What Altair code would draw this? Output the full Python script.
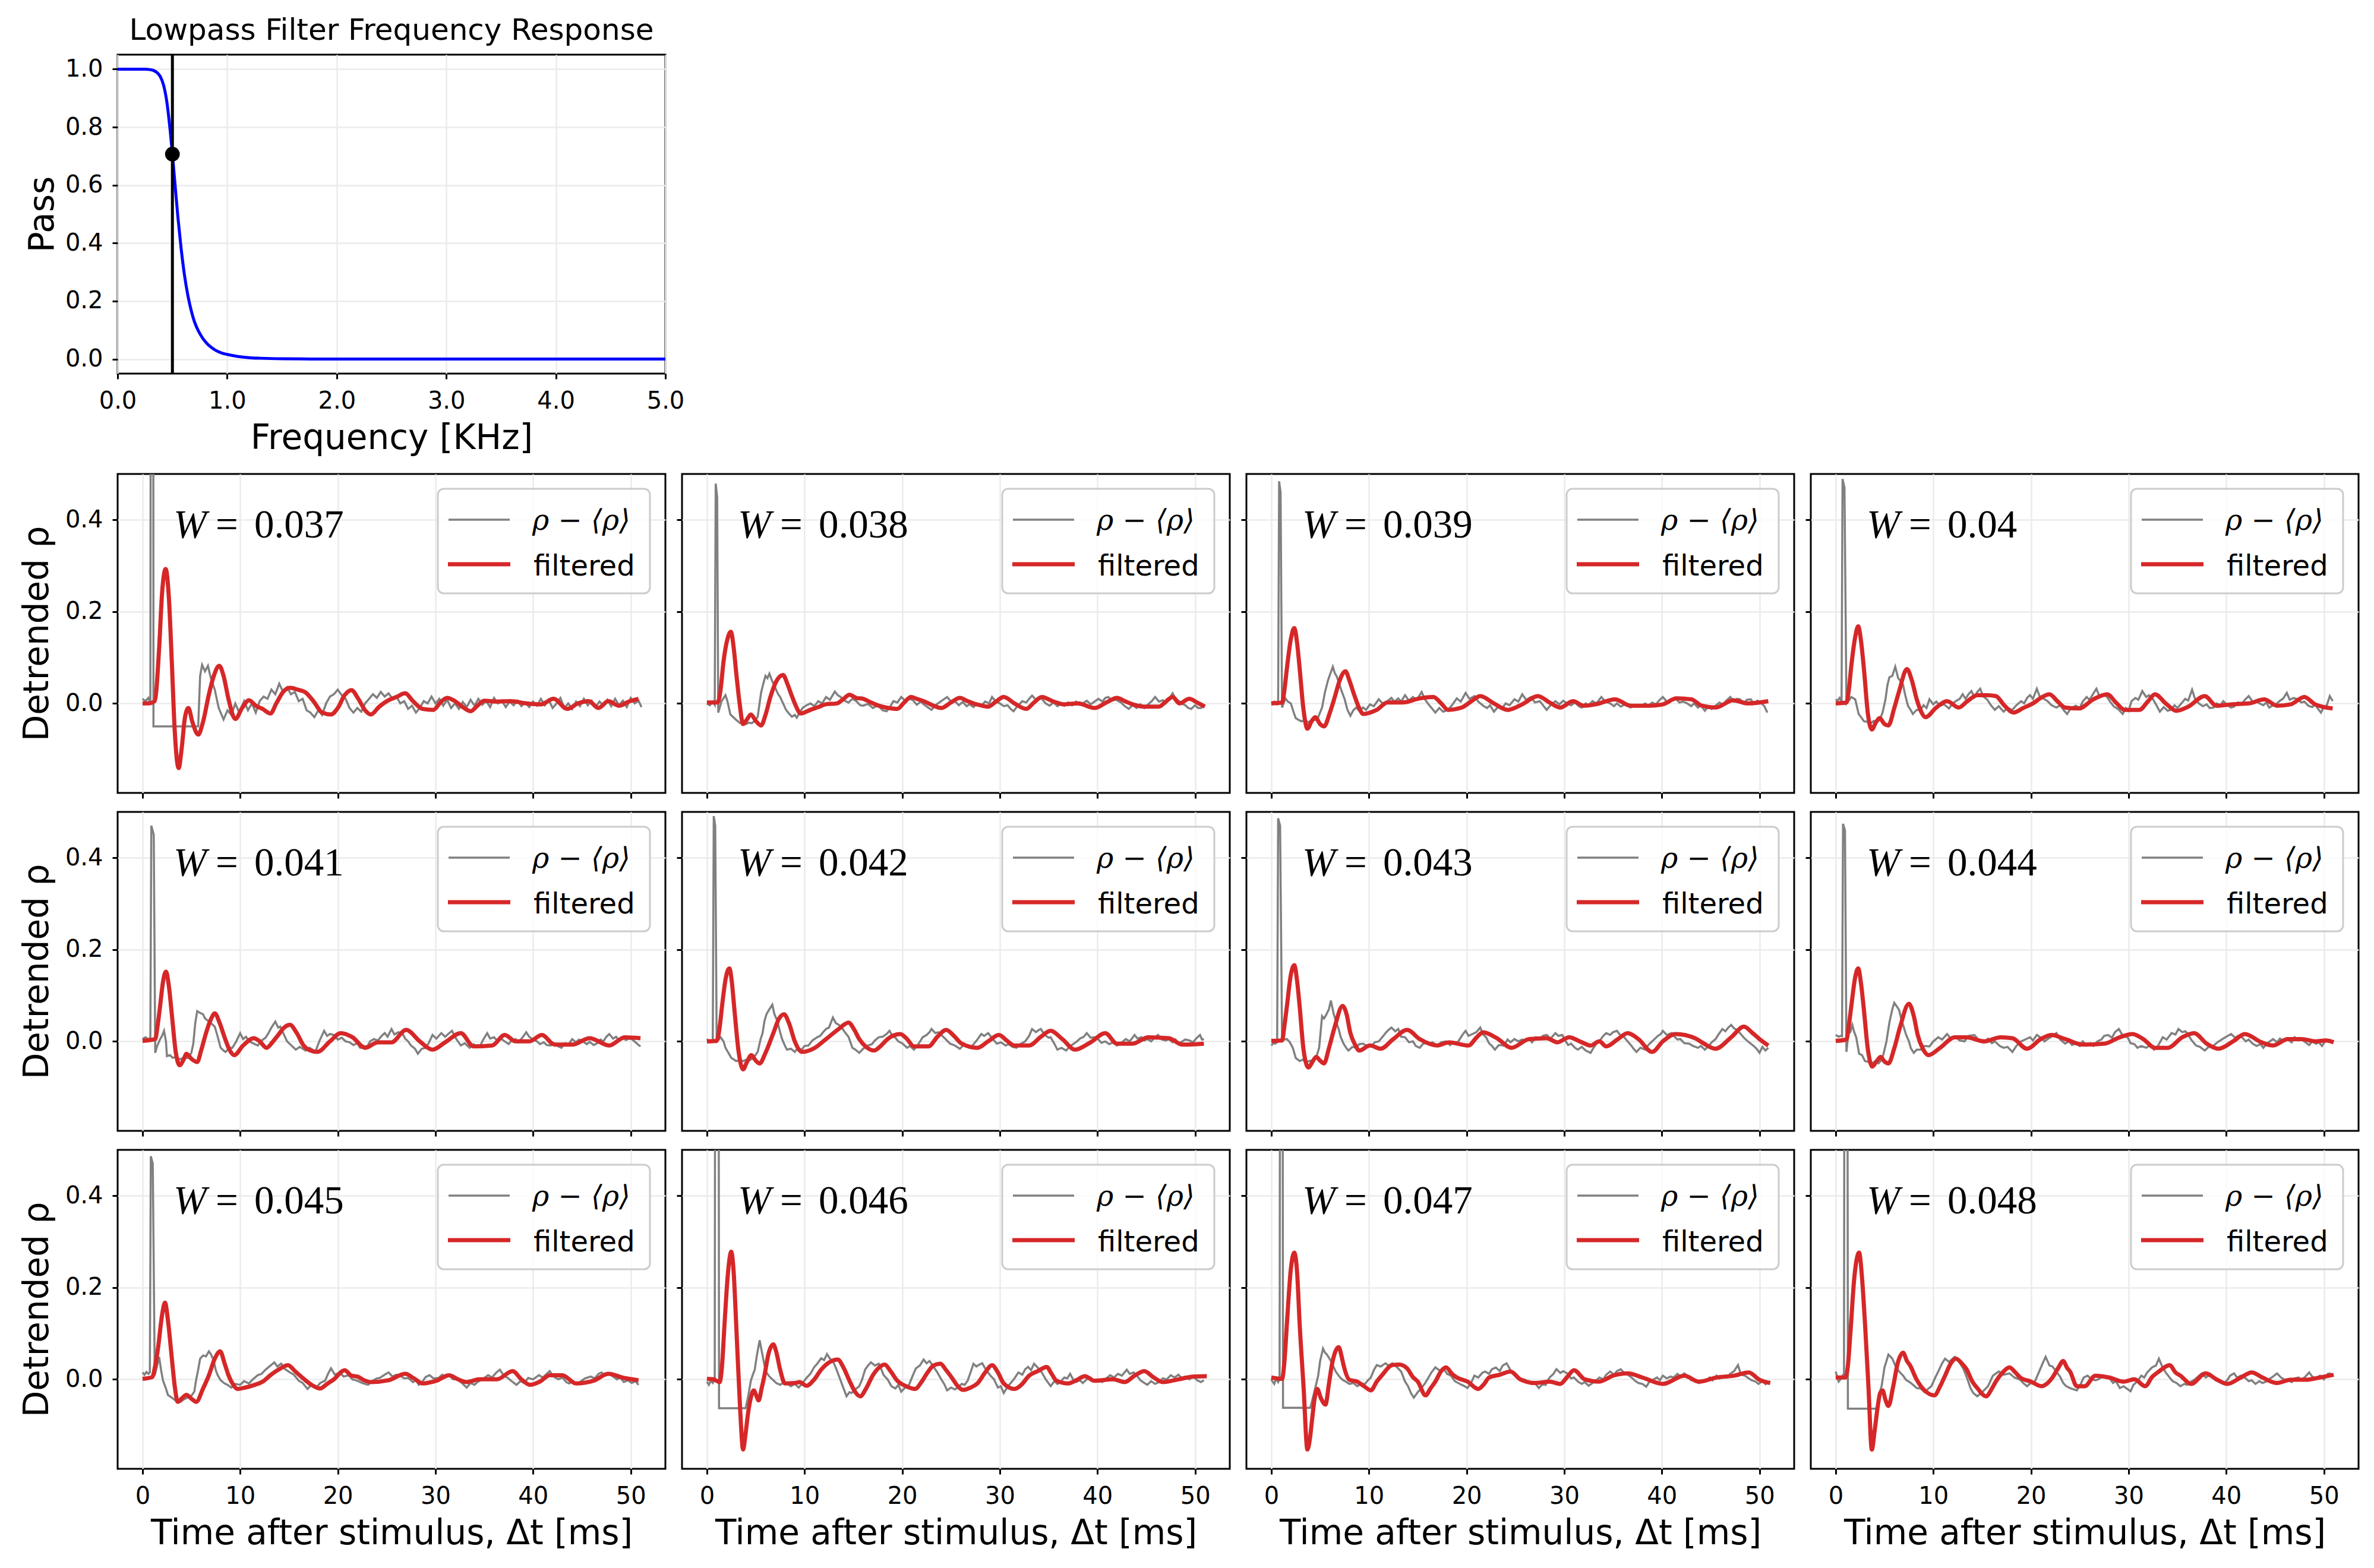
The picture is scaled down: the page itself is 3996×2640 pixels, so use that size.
import altair as alt
import pandas as pd

FONT = "DejaVu Sans"
SERIF = "Liberation Serif"
GREY_C = "#808080"
RED_C = "#d62728"
GRID_C = "#ebebeb"

# ---------------- top panel: lowpass filter response ----------------
freq_khz = [0.0, 0.1, 0.2, 0.25, 0.3, 0.33, 0.36, 0.39, 0.42, 0.45, 0.48, 0.5, 0.52, 0.55, 0.58,
            0.61, 0.64, 0.67, 0.7, 0.74, 0.78, 0.82, 0.86, 0.9, 0.95, 1.0, 1.1, 1.2, 1.3, 1.5,
            1.8, 2.2, 3.0, 4.0, 5.0]
pass_val = [1.0, 1.0, 1.0, 1.0, 0.998, 0.995, 0.988, 0.974, 0.944, 0.885, 0.787, 0.707, 0.62, 0.49, 0.38,
            0.29, 0.222, 0.17, 0.13, 0.095, 0.07, 0.052, 0.039, 0.029, 0.021, 0.016, 0.009, 0.005, 0.003, 0.001,
            0.0003, 0.0, 0.0, 0.0, 0.0]
cutoff_khz = [0.5]
cutoff_pass = [0.707]

x_ticks_khz = [0, 1, 2, 3, 4, 5]
y_ticks_pass = [0.0, 0.2, 0.4, 0.6, 0.8, 1.0]
x_ticks_ms = [0, 10, 20, 30, 40, 50]
y_ticks_rho = [0.0, 0.2, 0.4]

w_labels = ["0.037", "0.038", "0.039", "0.04", "0.041", "0.042",
            "0.043", "0.044", "0.045", "0.046", "0.047", "0.048"]

# ---------------- raw detrended traces (t [ms], value) ----------------
grey_1 = [(0,0.01),(0.3,0.005),(0.6,0.012),(0.8,0.0),(0.85,0.9),(1.1,0.9),(1.12,-0.05),(5.7,-0.05),(5.9,0.06),(6.1,0.084),(6.4,0.07),(6.7,0.082),(7.0,0.055),(7.4,0.03),(7.8,-0.01),(8.3,-0.035),(8.7,-0.015),(9.1,-0.025),(9.5,0.0),(9.9,-0.02),(10.4,0.005),(10.8,-0.015),(11.2,0.0),(11.6,-0.02),(12.0,0.005),(12.4,0.015),(12.8,0.01),(13.2,0.03),(13.6,0.02),(14.0,0.043),(14.4,0.025),(14.8,0.035),(15.2,0.02),(15.6,0.025),(16.0,0.005),(16.4,0.01),(16.8,-0.015),(17.2,-0.02),(17.6,-0.03),(18.0,-0.015),(18.4,-0.025),(18.8,0.0),(19.2,0.015),(19.6,0.02),(20.0,0.03),(20.4,0.018),(20.8,0.01),(21.2,-0.01),(21.6,-0.02),(22.0,-0.01),(22.4,-0.018),(22.8,0.0),(23.2,0.01),(23.6,0.02),(24.0,0.012),(24.4,0.025),(24.8,0.015),(25.2,0.022),(25.6,0.01),(26.0,0.015),(26.4,0.0),(26.8,0.005),(27.2,-0.012),(27.6,-0.005),(28.0,-0.02),(28.4,-0.01),(28.8,0.005),(29.2,0.0),(29.6,0.015),(30.0,0.0),(30.4,0.01),(30.8,-0.005),(31.2,0.008),(31.6,-0.01),(32.0,0.0),(32.4,-0.012),(32.8,0.003),(33.2,-0.008),(33.6,0.008),(34.0,-0.005),(34.4,0.01),(34.8,-0.003),(35.2,0.005),(35.6,-0.008),(36.0,0.012),(36.4,0.0),(36.8,0.006),(37.2,-0.008),(37.6,0.004),(38.0,-0.004),(38.4,0.006),(38.8,-0.006),(39.2,0.002),(39.6,-0.008),(40.0,0.004),(40.4,-0.005),(40.8,0.01),(41.2,-0.004),(41.6,0.008),(42.0,-0.01),(42.4,0.0),(42.8,0.012),(43.2,-0.01),(43.6,0.0),(44.0,-0.012),(44.4,0.004),(44.8,-0.006),(45.2,0.01),(45.6,-0.004),(46.0,0.006),(46.4,-0.008),(46.8,0.004),(47.2,-0.004),(47.6,0.008),(48.0,-0.006),(48.4,0.01),(48.8,-0.004),(49.2,0.006),(49.6,-0.008),(50.0,0.012),(50.4,0.0),(50.8,0.006),(51.1,-0.008)]
grey_2 = [(0,0.0),(0.3,-0.004),(0.6,0.004),(0.8,-0.003),(0.9,0.479),(1.05,0.45),(1.16,-0.02),(1.5,0.005),(1.9,0.018),(2.1,0.005),(2.4,-0.024),(2.7,-0.03),(3.0,-0.036),(3.4,-0.043),(3.7,-0.04),(4.0,-0.045),(4.3,-0.042),(4.6,-0.043),(4.9,-0.038),(5.2,-0.029),(5.55,0.024),(5.8,0.045),(6.0,0.06),(6.2,0.055),(6.4,0.065),(6.7,0.048),(6.9,0.04),(7.1,0.029),(7.3,0.02),(7.5,0.014),(7.8,0.0),(8.1,-0.014),(8.4,-0.022),(8.7,-0.029),(9.0,-0.025),(9.2,-0.031),(9.5,-0.02),(9.8,-0.01),(10.2,-0.004),(10.6,0.0),(11.0,-0.006),(11.4,0.005),(11.8,0.0),(12.2,0.014),(12.6,0.008),(13.1,0.026),(13.4,0.018),(13.7,0.014),(14.1,0.006),(14.5,0.002),(14.9,0.01),(15.3,0.005),(15.7,-0.004),(16.0,-0.005),(16.5,-0.001),(17.0,-0.01),(17.5,-0.004),(18.0,-0.015),(18.4,-0.017),(18.8,-0.006),(19.1,0.005),(19.5,0.002),(19.9,0.014),(20.3,0.006),(20.7,0.01),(21.1,0.007),(21.5,-0.003),(21.9,0.004),(22.2,-0.002),(22.6,-0.008),(23.0,-0.014),(23.4,-0.004),(23.8,0.002),(24.2,0.008),(24.6,0.014),(25.0,0.004),(25.4,0.005),(25.8,-0.004),(26.2,0.003),(26.6,-0.006),(26.9,-0.002),(27.3,-0.008),(27.7,0.0),(28.1,-0.005),(28.5,0.004),(28.9,0.0),(29.2,0.014),(29.6,0.004),(30.0,0.0),(30.4,-0.006),(30.8,-0.004),(31.1,-0.012),(31.4,-0.017),(31.8,-0.006),(32.3,0.005),(32.7,0.002),(33.0,0.01),(33.3,0.017),(33.7,0.008),(34.0,0.012),(34.3,0.01),(34.7,0.0),(35.1,-0.005),(35.5,0.002),(35.9,-0.006),(36.3,0.0),(36.6,-0.005),(37.0,0.002),(37.4,-0.004),(37.8,0.004),(38.1,-0.003),(38.5,0.0),(38.9,0.006),(39.3,-0.002),(39.7,0.004),(40.1,0.01),(40.5,0.004),(40.8,0.012),(41.1,0.014),(41.5,0.006),(41.9,0.008),(42.4,0.002),(42.8,-0.006),(43.2,-0.012),(43.6,-0.004),(44.0,-0.01),(44.4,-0.002),(44.8,-0.01),(45.2,-0.002),(45.6,0.006),(45.9,0.014),(46.3,0.004),(46.7,0.007),(47.0,0.0),(47.4,0.012),(47.7,0.022),(48.0,0.01),(48.3,0.006),(48.6,0.0),(49.0,-0.004),(49.3,-0.01),(49.6,-0.012),(50.0,-0.004),(50.3,-0.01),(50.6,-0.01),(50.9,-0.006)]
grey_3 = [(0,0.0),(0.3,0.004),(0.6,-0.002),(0.7,0.0),(0.8,0.484),(0.95,0.46),(1.1,-0.009),(1.45,0.011),(1.7,0.004),(2.0,0.0),(2.3,-0.02),(2.5,-0.032),(2.8,-0.036),(3.1,-0.039),(3.4,-0.036),(3.8,-0.041),(4.1,-0.037),(4.5,-0.036),(4.8,-0.03),(5.2,-0.009),(5.5,0.025),(5.8,0.05),(6.0,0.062),(6.3,0.08),(6.5,0.066),(6.7,0.059),(7.0,0.04),(7.2,0.027),(7.5,0.01),(7.8,-0.014),(8.1,-0.027),(8.4,-0.015),(8.7,-0.009),(9.0,-0.016),(9.4,-0.009),(9.7,-0.014),(10.1,-0.002),(10.5,-0.006),(11.0,0.009),(11.4,0.0),(11.9,0.005),(12.3,0.012),(12.6,0.004),(13.0,0.011),(13.3,0.004),(13.7,0.018),(14.1,0.006),(14.5,0.014),(14.9,0.008),(15.4,0.025),(15.7,0.01),(16.1,-0.002),(16.5,-0.012),(16.8,-0.02),(17.2,-0.01),(17.6,-0.018),(18.1,-0.014),(18.5,-0.004),(19.0,0.011),(19.4,0.004),(19.9,0.023),(20.3,0.01),(20.8,0.016),(21.2,0.004),(21.7,-0.005),(22.1,-0.01),(22.4,-0.004),(22.8,-0.018),(23.2,-0.008),(23.6,-0.012),(24.0,0.0),(24.4,-0.004),(24.9,0.009),(25.3,0.004),(25.7,0.02),(26.1,0.008),(26.6,0.014),(27.0,0.002),(27.5,0.005),(27.9,-0.006),(28.2,-0.014),(28.6,-0.004),(29.1,0.005),(29.5,-0.002),(29.9,0.006),(30.3,0.0),(30.7,-0.004),(31.1,0.002),(31.5,-0.006),(31.8,-0.009),(32.2,0.0),(32.5,-0.004),(32.9,0.005),(33.3,0.0),(33.8,0.014),(34.2,0.004),(34.7,0.0),(35.1,-0.006),(35.4,0.0),(35.8,-0.007),(36.2,-0.002),(36.8,-0.009),(37.2,-0.003),(37.5,-0.006),(37.9,-0.005),(38.3,0.0),(38.6,-0.006),(39.0,0.002),(39.4,-0.002),(39.7,0.006),(40.1,0.014),(40.5,0.004),(41.0,0.01),(41.4,0.011),(41.8,0.002),(42.2,0.004),(42.6,0.0),(43.0,-0.006),(43.3,0.0),(43.7,-0.009),(44.0,-0.004),(44.4,-0.016),(44.8,-0.006),(45.1,-0.012),(45.5,-0.005),(45.9,0.002),(46.3,-0.003),(46.6,0.006),(47.0,0.014),(47.4,0.004),(47.7,0.01),(48.0,0.009),(48.4,0.0),(48.7,0.008),(49.1,0.009),(49.4,0.0),(49.8,0.006),(50.2,0.0),(50.5,-0.006),(50.8,-0.02)]
grey_4 = [(0,0.009),(0.2,0.006),(0.4,0.012),(0.6,0.004),(0.7,0.489),(0.9,0.47),(1.1,0.0),(1.4,0.008),(1.6,0.014),(2.0,0.009),(2.35,-0.023),(2.6,-0.03),(2.9,-0.039),(3.2,-0.04),(3.6,-0.043),(3.9,-0.038),(4.2,-0.04),(4.5,-0.036),(4.8,-0.02),(5.1,0.009),(5.3,0.04),(5.5,0.057),(5.8,0.06),(6.1,0.08),(6.4,0.055),(6.6,0.05),(6.9,0.041),(7.1,0.02),(7.4,-0.005),(7.7,-0.015),(7.9,-0.023),(8.3,-0.014),(8.7,-0.014),(9.0,-0.004),(9.3,-0.01),(9.6,0.009),(10.0,-0.002),(10.3,0.004),(10.7,-0.005),(11.1,-0.002),(11.6,-0.011),(12.0,0.0),(12.3,0.005),(12.7,0.01),(13.0,0.02),(13.3,0.01),(13.6,0.02),(13.9,0.027),(14.2,0.014),(14.5,0.025),(14.8,0.032),(15.1,0.015),(15.5,0.009),(15.9,-0.004),(16.3,-0.014),(16.7,-0.006),(17.2,-0.018),(17.6,-0.01),(18.1,-0.014),(18.5,-0.004),(19.0,0.005),(19.3,0.0),(19.6,0.012),(19.9,0.018),(20.2,0.01),(20.6,0.032),(20.9,0.015),(21.3,0.01),(21.7,0.005),(22.1,-0.004),(22.6,-0.009),(23.0,-0.004),(23.4,-0.016),(23.7,-0.023),(24.1,-0.01),(24.6,-0.005),(25.0,-0.01),(25.3,0.004),(25.7,0.014),(26.0,0.008),(26.4,0.022),(26.7,0.032),(27.0,0.016),(27.4,0.02),(27.8,0.014),(28.1,0.004),(28.5,-0.007),(28.9,-0.012),(29.4,-0.023),(29.7,-0.01),(30.0,-0.016),(30.3,0.005),(30.7,0.012),(31.0,0.008),(31.4,0.027),(31.8,0.014),(32.1,0.018),(32.5,0.009),(32.9,-0.006),(33.2,-0.018),(33.6,-0.008),(34.0,-0.016),(34.3,-0.014),(34.7,-0.004),(35.0,-0.01),(35.4,0.0),(35.8,0.01),(36.1,0.006),(36.5,0.03),(36.8,0.01),(37.2,0.0),(37.6,-0.006),(38.0,-0.002),(38.3,-0.01),(38.7,-0.009),(39.0,0.0),(39.4,-0.004),(39.7,0.005),(40.1,-0.004),(40.5,-0.009),(40.8,-0.007),(41.2,0.002),(41.6,0.0),(42.0,0.01),(42.3,0.016),(42.7,0.004),(43.0,0.006),(43.4,0.0),(43.8,-0.004),(44.1,0.002),(44.4,-0.009),(44.8,-0.004),(45.2,0.0),(45.5,0.006),(45.8,0.01),(46.2,0.023),(46.5,0.008),(46.9,0.012),(47.3,0.009),(47.7,0.002),(48.0,0.004),(48.4,-0.005),(48.8,-0.008),(49.1,-0.002),(49.4,-0.012),(49.7,-0.02),(50.0,-0.008),(50.3,-0.004),(50.6,0.016),(50.9,0.005)]
grey_5 = [(0,0.005),(0.3,0.009),(0.6,0.004),(0.8,0.008),(0.9,0.47),(1.15,0.45),(1.3,-0.025),(1.5,-0.01),(1.8,0.005),(2.0,0.012),(2.2,0.023),(2.4,0.0),(2.5,-0.032),(2.8,-0.03),(3.1,-0.036),(3.4,-0.034),(3.8,-0.039),(4.2,-0.036),(4.7,-0.036),(5.0,-0.025),(5.2,-0.005),(5.4,0.04),(5.6,0.066),(5.9,0.062),(6.2,0.059),(6.4,0.05),(6.7,0.045),(7.0,0.04),(7.4,0.032),(7.7,0.01),(8.0,-0.014),(8.3,-0.02),(8.5,-0.023),(8.9,-0.014),(9.2,-0.014),(9.6,0.0),(10.0,0.018),(10.3,0.005),(10.6,0.01),(10.9,0.0),(11.3,-0.004),(11.8,-0.009),(12.2,0.002),(12.6,0.008),(12.9,0.018),(13.2,0.03),(13.6,0.043),(13.9,0.03),(14.1,0.032),(14.5,0.014),(14.8,0.0),(15.2,-0.008),(15.7,-0.018),(16.1,-0.012),(16.7,-0.02),(17.1,-0.014),(17.4,-0.018),(17.7,-0.023),(18.1,0.0),(18.6,0.023),(18.9,0.012),(19.2,0.016),(19.6,0.014),(20.0,0.004),(20.4,0.008),(20.8,0.0),(21.2,-0.002),(21.6,-0.008),(22.0,-0.004),(22.3,-0.014),(22.7,-0.01),(23.0,-0.012),(23.3,0.0),(23.7,0.005),(24.1,0.002),(24.5,0.012),(24.8,0.018),(25.1,0.01),(25.5,0.027),(25.8,0.015),(26.2,0.02),(26.6,0.018),(26.9,0.006),(27.2,0.0),(27.5,-0.009),(27.9,-0.016),(28.2,-0.027),(28.6,-0.016),(29.0,-0.014),(29.3,-0.004),(29.7,0.014),(30.1,0.006),(30.6,0.018),(31.0,0.01),(31.3,0.016),(31.7,0.023),(32.0,0.01),(32.3,0.0),(32.6,-0.009),(33.0,-0.004),(33.5,-0.014),(33.9,-0.006),(34.2,-0.011),(34.6,-0.009),(34.9,0.004),(35.3,0.018),(35.6,0.006),(36.0,0.009),(36.3,0.002),(36.7,0.006),(37.1,0.0),(37.5,-0.006),(37.8,0.002),(38.2,0.005),(38.5,-0.002),(38.9,0.008),(39.3,0.02),(39.6,0.01),(40.0,0.004),(40.4,0.0),(40.7,-0.006),(41.1,-0.002),(41.4,-0.008),(41.8,-0.009),(42.2,-0.004),(42.5,-0.01),(42.9,-0.014),(43.3,-0.004),(43.6,-0.008),(44.0,0.005),(44.4,-0.002),(44.7,0.004),(45.1,0.0),(45.5,-0.006),(45.8,-0.001),(46.2,-0.008),(46.5,-0.005),(46.9,0.004),(47.2,0.0),(47.5,0.01),(47.8,0.016),(48.2,0.006),(48.5,0.01),(48.8,0.002),(49.1,0.009),(49.5,0.003),(49.8,0.006),(50.1,0.005),(50.5,-0.002),(50.8,-0.008),(51.0,-0.011)]
grey_6 = [(0,0.005),(0.3,-0.002),(0.5,0.0),(0.6,0.002),(0.7,0.491),(0.85,0.47),(1.0,0.0),(1.2,0.004),(1.4,0.009),(1.7,0.0),(1.9,-0.014),(2.2,-0.025),(2.5,-0.036),(2.8,-0.04),(3.0,-0.043),(3.4,-0.041),(3.7,-0.043),(4.0,-0.04),(4.4,-0.041),(4.8,-0.035),(5.2,-0.023),(5.5,0.005),(5.7,0.018),(5.9,0.045),(6.1,0.059),(6.4,0.07),(6.7,0.08),(6.9,0.06),(7.2,0.045),(7.5,0.02),(7.7,0.005),(8.0,-0.01),(8.2,-0.018),(8.6,-0.016),(9.0,-0.023),(9.3,-0.015),(9.7,-0.018),(10.0,-0.01),(10.4,-0.009),(10.8,0.002),(11.3,0.009),(11.6,0.012),(11.9,0.02),(12.2,0.027),(12.5,0.03),(12.9,0.052),(13.2,0.04),(13.5,0.036),(13.8,0.03),(14.2,0.018),(14.5,0.01),(14.9,-0.014),(15.2,-0.018),(15.6,-0.025),(16.0,-0.016),(16.5,-0.009),(16.9,-0.006),(17.2,0.002),(17.6,0.009),(18.0,0.01),(18.4,0.016),(18.7,0.023),(19.0,0.012),(19.3,0.008),(19.6,0.0),(20.0,-0.004),(20.5,-0.014),(20.8,-0.01),(21.2,-0.018),(21.6,-0.008),(22.1,0.009),(22.5,0.014),(22.8,0.02),(23.0,0.027),(23.4,0.018),(23.7,0.02),(24.0,0.014),(24.4,0.006),(24.9,-0.005),(25.3,-0.008),(25.6,-0.012),(25.9,-0.016),(26.3,-0.008),(26.6,-0.012),(27.0,-0.014),(27.4,-0.004),(27.7,0.004),(28.1,0.016),(28.4,0.012),(28.8,0.018),(29.1,0.01),(29.4,0.002),(29.7,-0.005),(30.1,-0.002),(30.6,-0.009),(30.9,-0.006),(31.3,-0.012),(31.7,-0.014),(32.1,-0.006),(32.6,0.0),(33.0,0.012),(33.3,0.027),(33.7,0.02),(34.0,0.025),(34.2,0.027),(34.6,0.014),(35.0,0.008),(35.2,0.009),(35.6,-0.006),(35.9,-0.018),(36.3,-0.014),(36.8,-0.02),(37.1,-0.012),(37.5,-0.006),(37.9,0.0),(38.2,0.006),(38.6,0.01),(38.9,0.018),(39.3,0.008),(39.7,0.009),(40.1,0.004),(40.4,-0.003),(40.8,0.0),(41.2,-0.006),(41.6,-0.002),(42.0,-0.009),(42.4,-0.004),(42.9,0.005),(43.3,0.0),(43.8,0.014),(44.1,0.006),(44.5,0.009),(44.8,0.002),(45.1,0.005),(45.5,0.0),(45.9,0.009),(46.2,0.014),(46.6,0.004),(47.0,0.002),(47.3,0.005),(47.7,-0.002),(48.0,0.004),(48.3,-0.005),(48.7,0.0),(49.0,0.004),(49.4,0.002),(49.8,-0.002),(50.1,0.006),(50.5,0.014),(50.7,0.004),(50.9,0.005)]
grey_7 = [(0,-0.009),(0.2,-0.004),(0.4,-0.005),(0.6,-0.002),(0.7,0.486),(0.9,0.47),(1.1,0.009),(1.3,0.004),(1.6,0.005),(1.9,-0.002),(2.2,-0.014),(2.5,-0.036),(2.9,-0.043),(3.2,-0.04),(3.6,-0.045),(4.0,-0.042),(4.3,-0.043),(4.6,-0.035),(4.9,-0.014),(5.2,0.055),(5.4,0.05),(5.6,0.057),(5.9,0.07),(6.1,0.089),(6.4,0.059),(6.6,0.045),(6.9,0.027),(7.1,0.01),(7.4,-0.005),(7.7,-0.015),(7.9,-0.02),(8.3,-0.012),(8.7,-0.014),(9.0,-0.006),(9.4,-0.005),(9.8,-0.01),(10.3,-0.009),(10.6,-0.002),(11.0,0.0),(11.4,0.01),(11.7,0.018),(12.0,0.025),(12.3,0.03),(12.7,0.022),(13.0,0.027),(13.3,0.01),(13.7,0.009),(14.1,-0.002),(14.5,0.0),(14.8,-0.01),(15.2,-0.014),(15.6,-0.004),(16.1,-0.005),(16.5,-0.002),(17.0,-0.009),(17.4,-0.002),(17.9,0.0),(18.3,-0.008),(18.6,-0.002),(19.0,-0.005),(19.3,0.005),(19.6,0.015),(19.9,0.023),(20.2,0.012),(20.6,0.016),(21.0,0.02),(21.4,0.03),(21.7,0.015),(22.0,0.009),(22.3,-0.004),(22.6,-0.01),(22.9,-0.018),(23.3,-0.008),(23.8,-0.009),(24.2,0.004),(24.5,-0.002),(24.9,0.005),(25.3,0.0),(25.7,0.004),(26.0,0.0),(26.4,0.006),(26.7,-0.002),(27.1,0.009),(27.5,0.004),(27.8,0.012),(28.2,0.014),(28.6,0.006),(29.1,0.018),(29.4,0.012),(29.8,0.014),(30.1,0.002),(30.4,-0.008),(30.7,-0.005),(31.1,-0.014),(31.4,-0.018),(31.8,-0.012),(32.2,-0.02),(32.7,-0.025),(33.0,-0.014),(33.3,-0.005),(33.6,0.0),(34.0,0.012),(34.3,0.018),(34.7,0.014),(35.0,0.02),(35.4,0.023),(35.8,0.012),(36.1,0.01),(36.5,0.0),(36.9,-0.01),(37.1,-0.016),(37.4,-0.023),(37.8,-0.014),(38.3,-0.018),(38.6,-0.008),(38.9,-0.002),(39.2,0.004),(39.6,0.012),(39.9,0.016),(40.1,0.023),(40.5,0.014),(41.0,0.018),(41.3,0.01),(41.6,0.004),(41.9,0.005),(42.3,-0.004),(42.8,-0.005),(43.2,-0.01),(43.7,-0.014),(44.0,-0.01),(44.4,-0.018),(44.8,-0.01),(45.1,-0.002),(45.5,0.005),(45.8,0.015),(46.2,0.027),(46.5,0.022),(46.8,0.03),(47.1,0.036),(47.4,0.028),(47.7,0.025),(48.0,0.018),(48.4,0.008),(48.7,0.002),(49.1,-0.005),(49.4,-0.01),(49.7,-0.016),(50.0,-0.025),(50.3,-0.012),(50.6,-0.02),(50.9,-0.014)]
grey_8 = [(0,0.014),(0.3,0.01),(0.5,0.012),(0.65,0.011),(0.75,0.474),(0.95,0.46),(1.1,-0.023),(1.3,0.018),(1.5,0.02),(1.7,0.036),(1.9,0.02),(2.1,0.009),(2.4,-0.027),(2.7,-0.03),(3.0,-0.043),(3.4,-0.045),(3.7,-0.048),(4.0,-0.044),(4.4,-0.048),(4.7,-0.04),(4.9,-0.027),(5.2,0.0),(5.5,0.041),(5.8,0.07),(6.0,0.084),(6.3,0.075),(6.5,0.068),(6.7,0.05),(6.9,0.036),(7.2,0.015),(7.5,0.0),(7.7,-0.015),(8.0,-0.025),(8.3,-0.018),(8.7,-0.018),(9.1,-0.01),(9.6,-0.011),(10.0,0.0),(10.5,0.009),(10.9,0.004),(11.4,0.016),(11.8,0.006),(12.3,0.009),(12.7,0.002),(13.2,0.0),(13.6,0.012),(14.2,0.014),(14.6,0.004),(15.2,-0.002),(15.6,0.006),(16.0,-0.004),(16.3,0.0),(16.8,-0.01),(17.2,-0.014),(17.6,-0.012),(18.1,-0.023),(18.5,-0.01),(19.0,0.0),(19.4,0.004),(19.9,0.009),(20.2,0.002),(20.6,0.014),(21.0,0.008),(21.4,0.0),(21.7,0.005),(22.1,0.01),(22.6,0.018),(23.0,0.004),(23.5,-0.005),(23.9,0.0),(24.2,-0.008),(24.6,-0.005),(25.0,-0.01),(25.3,0.0),(25.7,-0.009),(26.1,-0.004),(26.4,-0.01),(26.8,0.0),(27.2,0.004),(27.5,0.012),(27.9,0.014),(28.3,0.008),(28.6,0.02),(29.0,0.027),(29.3,0.016),(29.6,0.01),(29.9,0.009),(30.2,-0.004),(30.6,-0.006),(30.9,-0.014),(31.3,-0.01),(31.8,-0.014),(32.2,-0.008),(32.6,-0.018),(33.0,-0.01),(33.5,0.009),(33.9,0.004),(34.4,0.018),(34.8,0.015),(35.1,0.027),(35.5,0.02),(35.8,0.022),(36.0,0.018),(36.4,0.004),(36.9,-0.009),(37.3,-0.012),(37.8,-0.02),(38.2,-0.012),(38.7,-0.009),(39.1,-0.002),(39.6,0.005),(40.0,0.01),(40.5,0.016),(40.9,0.008),(41.2,0.012),(41.6,0.009),(42.0,0.0),(42.3,0.004),(42.7,-0.005),(43.1,-0.01),(43.5,-0.006),(43.8,-0.014),(44.2,-0.004),(44.8,0.005),(45.2,-0.002),(45.5,0.006),(45.9,0.0),(46.3,0.004),(46.7,-0.002),(47.0,0.009),(47.4,0.002),(47.7,0.005),(48.1,-0.002),(48.5,-0.008),(48.8,0.0),(49.2,-0.005),(49.5,-0.002),(49.8,-0.01),(50.1,-0.001),(50.5,0.002),(50.8,-0.001)]
grey_9 = [(0,0.015),(0.2,0.01),(0.4,0.016),(0.6,0.012),(0.75,0.015),(0.85,0.486),(1.05,0.47),(1.25,0.009),(1.5,0.03),(1.7,0.049),(1.9,0.02),(2.1,-0.003),(2.4,-0.02),(2.6,-0.034),(3.0,-0.04),(3.3,-0.045),(3.6,-0.046),(3.9,-0.049),(4.2,-0.044),(4.6,-0.04),(5.0,-0.036),(5.3,-0.027),(5.5,0.0),(5.7,0.021),(5.9,0.045),(6.2,0.052),(6.5,0.05),(6.8,0.061),(7.0,0.055),(7.3,0.04),(7.5,0.02),(7.7,0.009),(8.0,-0.002),(8.4,-0.009),(8.7,-0.012),(9.1,-0.018),(9.5,-0.01),(10.0,-0.012),(10.4,-0.004),(10.9,-0.009),(11.3,0.0),(11.8,0.009),(12.2,0.012),(12.6,0.021),(13.0,0.028),(13.5,0.037),(13.8,0.028),(14.2,0.034),(14.6,0.022),(15.1,0.015),(15.5,0.01),(16.0,-0.003),(16.4,-0.008),(16.9,-0.021),(17.3,-0.012),(17.8,-0.018),(18.2,-0.008),(18.7,-0.003),(19.0,0.012),(19.3,0.024),(19.7,0.01),(20.2,0.015),(20.6,0.006),(21.1,0.009),(21.5,0.0),(22.0,-0.003),(22.5,-0.008),(23.1,-0.012),(23.5,-0.004),(24.0,0.002),(24.3,0.003),(24.8,0.01),(25.2,0.015),(25.6,0.006),(26.0,0.01),(26.3,0.009),(26.8,0.002),(27.2,0.003),(27.7,-0.006),(28.0,-0.002),(28.3,-0.012),(28.7,-0.004),(29.0,0.005),(29.4,0.009),(29.8,0.002),(30.3,0.003),(30.7,0.01),(31.0,0.004),(31.4,0.009),(31.8,0.0),(32.3,0.0),(32.7,-0.008),(33.2,-0.018),(33.6,-0.008),(34.0,-0.012),(34.3,-0.006),(34.8,0.0),(35.4,0.009),(35.8,0.004),(36.2,0.014),(36.6,0.021),(37.0,0.008),(37.4,0.003),(37.8,-0.004),(38.3,-0.012),(38.7,-0.004),(39.1,-0.008),(39.5,0.003),(40.0,0.0),(40.6,0.009),(41.0,0.004),(41.4,0.012),(41.7,0.018),(42.1,0.006),(42.6,0.0),(43.0,0.004),(43.4,-0.006),(43.7,-0.009),(44.1,-0.004),(44.4,-0.01),(44.8,-0.006),(45.3,0.002),(45.9,0.006),(46.3,0.002),(46.7,0.012),(47.0,0.015),(47.4,0.008),(47.8,0.012),(48.2,0.006),(48.6,0.0),(48.9,0.004),(49.3,-0.006),(49.7,-0.002),(50.1,-0.008),(50.5,-0.004),(50.8,-0.012)]
grey_10 = [(0,-0.005),(0.2,-0.012),(0.4,-0.003),(0.6,-0.008),(0.8,0.0),(0.85,0.9),(1.2,0.9),(1.24,-0.063),(3.96,-0.063),(4.2,-0.04),(4.5,-0.003),(4.7,0.01),(4.9,0.021),(5.1,0.05),(5.4,0.085),(5.7,0.052),(5.9,0.03),(6.1,0.015),(6.4,0.006),(6.7,0.0),(7.1,-0.008),(7.5,-0.012),(8.0,-0.006),(8.6,-0.015),(9.0,-0.01),(9.4,-0.018),(9.8,-0.008),(10.2,0.003),(10.6,0.012),(11.0,0.027),(11.3,0.034),(11.7,0.046),(12.0,0.042),(12.3,0.055),(12.6,0.045),(12.9,0.04),(13.3,0.02),(13.7,-0.003),(14.0,-0.02),(14.3,-0.037),(14.6,-0.028),(14.8,-0.03),(15.2,-0.022),(15.6,-0.015),(15.9,0.0),(16.2,0.021),(16.5,0.03),(16.8,0.037),(17.2,0.03),(17.6,0.034),(17.9,0.02),(18.1,0.009),(18.5,0.0),(18.9,-0.015),(19.3,-0.02),(19.6,-0.012),(19.9,-0.027),(20.3,-0.018),(20.7,-0.012),(21.0,0.004),(21.4,0.024),(21.8,0.03),(22.2,0.043),(22.5,0.035),(22.8,0.04),(23.2,0.028),(23.6,0.015),(24.0,0.0),(24.3,-0.01),(24.6,-0.024),(25.0,-0.018),(25.4,-0.022),(25.7,-0.018),(26.1,-0.01),(26.4,-0.012),(26.7,-0.003),(27.0,0.015),(27.3,0.034),(27.6,0.028),(27.9,0.032),(28.2,0.035),(28.6,0.02),(29.0,0.009),(29.4,0.0),(29.8,-0.018),(30.1,-0.015),(30.4,-0.03),(30.8,-0.016),(31.2,-0.006),(31.5,0.002),(31.9,0.015),(32.3,0.01),(32.6,0.022),(32.9,0.027),(33.2,0.02),(33.5,0.034),(33.9,0.025),(34.3,0.015),(34.7,0.0),(35.2,-0.015),(35.6,-0.004),(35.9,-0.01),(36.2,-0.006),(36.6,0.004),(36.9,0.002),(37.2,0.012),(37.5,0.0),(37.8,-0.006),(38.2,-0.002),(38.5,-0.008),(38.9,0.0),(39.3,0.004),(39.7,-0.004),(40.1,-0.002),(40.5,-0.006),(40.9,0.002),(41.3,0.009),(41.7,0.004),(42.1,0.012),(42.5,0.008),(43.0,0.021),(43.3,0.012),(43.7,0.015),(44.0,0.009),(44.4,-0.002),(44.8,-0.008),(45.1,-0.012),(45.5,-0.004),(45.9,-0.01),(46.3,-0.006),(46.7,0.002),(47.1,0.0),(47.5,0.009),(47.9,0.004),(48.3,0.01),(48.6,0.003),(49.0,0.006),(49.4,0.0),(49.8,0.006),(50.2,-0.002),(50.6,-0.006),(50.9,-0.002)]
grey_11 = [(0,-0.001),(0.3,-0.01),(0.5,0.002),(0.7,-0.006),(0.85,0.0),(0.9,0.9),(1.15,0.9),(1.2,-0.062),(4.0,-0.062),(4.4,-0.028),(4.8,0.008),(5.0,0.04),(5.3,0.067),(5.5,0.058),(5.7,0.054),(6.1,0.04),(6.6,0.017),(7.0,0.005),(7.3,-0.001),(7.7,-0.006),(8.0,-0.01),(8.4,-0.008),(8.8,-0.015),(9.2,-0.01),(9.6,-0.01),(9.9,-0.002),(10.2,0.004),(10.5,0.02),(10.8,0.031),(11.2,0.028),(11.7,0.035),(12.0,0.03),(12.4,0.035),(12.8,0.028),(13.3,0.017),(13.7,-0.005),(14.0,-0.015),(14.3,-0.03),(14.6,-0.04),(15.0,-0.028),(15.3,-0.021),(15.7,-0.01),(16.1,0.004),(16.4,0.015),(16.8,0.026),(17.2,0.02),(17.7,0.022),(18.0,0.012),(18.4,0.008),(18.8,-0.004),(19.3,-0.01),(19.7,-0.014),(20.1,-0.019),(20.5,-0.006),(20.8,0.008),(21.2,0.004),(21.6,0.014),(21.9,0.017),(22.3,0.012),(22.6,0.022),(23.0,0.026),(23.4,0.018),(23.7,0.03),(24.1,0.035),(24.5,0.02),(24.8,0.012),(25.2,0.008),(25.6,-0.002),(25.9,0.0),(26.3,-0.005),(26.7,-0.01),(27.0,-0.008),(27.4,-0.019),(27.8,-0.01),(28.1,-0.012),(28.5,0.004),(28.9,0.012),(29.2,0.022),(29.6,0.014),(29.9,0.018),(30.3,0.013),(30.7,0.002),(31.0,0.004),(31.4,-0.005),(31.8,-0.01),(32.1,-0.006),(32.5,-0.014),(32.9,-0.008),(33.2,-0.004),(33.6,0.004),(34.0,0.0),(34.3,0.01),(34.7,0.017),(35.1,0.01),(35.4,0.018),(35.8,0.022),(36.2,0.012),(36.5,0.01),(36.9,0.004),(37.3,-0.004),(37.6,-0.008),(38.0,-0.01),(38.4,-0.016),(38.7,-0.006),(39.1,-0.001),(39.5,0.004),(39.8,-0.002),(40.1,0.008),(40.5,0.002),(40.9,0.006),(41.2,0.004),(41.6,0.012),(41.9,0.006),(42.3,0.013),(42.7,0.006),(43.0,-0.002),(43.4,-0.001),(43.8,-0.008),(44.1,-0.004),(44.5,-0.005),(44.9,0.004),(45.2,-0.002),(45.6,0.008),(45.9,0.002),(46.3,0.006),(46.7,0.004),(47.0,0.012),(47.4,0.018),(47.8,0.031),(48.1,0.01),(48.5,0.008),(48.9,0.002),(49.2,-0.002),(49.6,-0.005),(49.9,-0.01),(50.3,-0.004),(50.7,-0.012)]
grey_12 = [(0,0.017),(0.3,-0.005),(0.5,0.0),(0.7,0.008),(0.85,0.002),(0.9,0.9),(1.2,0.9),(1.25,-0.064),(4.2,-0.064),(4.5,-0.03),(4.7,-0.015),(5.0,0.026),(5.4,0.054),(5.8,0.045),(6.1,0.03),(6.5,0.017),(6.9,0.008),(7.2,-0.001),(7.7,-0.008),(8.3,-0.019),(8.7,-0.02),(9.1,-0.028),(9.5,-0.02),(9.8,-0.015),(10.2,0.004),(10.5,0.017),(10.9,0.035),(11.2,0.045),(11.6,0.038),(12.2,0.049),(12.6,0.04),(13.1,0.022),(13.5,0.0),(13.8,-0.019),(14.1,-0.03),(14.5,-0.037),(15.0,-0.028),(15.6,-0.015),(16.1,0.008),(16.7,0.017),(17.2,0.01),(17.8,0.013),(18.3,0.004),(18.9,-0.001),(19.2,-0.008),(19.6,-0.015),(20.0,-0.008),(20.4,-0.005),(20.8,0.015),(21.2,0.035),(21.5,0.049),(21.9,0.03),(22.2,0.028),(22.6,0.017),(23.0,0.005),(23.3,-0.008),(23.6,-0.015),(24.1,-0.02),(24.7,-0.024),(25.1,-0.01),(25.4,0.004),(25.8,0.008),(26.2,0.0),(26.6,-0.002),(26.9,0.0),(27.3,0.006),(27.6,0.004),(28.0,0.004),(28.4,-0.008),(28.7,-0.004),(29.1,-0.019),(29.5,-0.015),(29.8,-0.02),(30.2,-0.026),(30.5,-0.012),(30.9,-0.004),(31.3,0.008),(31.6,0.004),(31.9,0.015),(32.4,0.026),(32.8,0.03),(33.1,0.045),(33.4,0.03),(33.8,0.015),(34.2,0.004),(34.5,-0.004),(34.9,-0.008),(35.3,-0.015),(35.7,-0.01),(36.0,-0.012),(36.4,-0.005),(36.8,0.0),(37.1,0.006),(37.5,0.013),(37.9,0.004),(38.2,0.008),(38.6,0.004),(38.9,-0.002),(39.3,-0.006),(39.7,-0.01),(40.1,-0.002),(40.4,0.008),(40.8,0.013),(41.1,0.004),(41.5,0.008),(41.9,0.004),(42.3,-0.004),(42.6,-0.002),(43.0,-0.01),(43.4,-0.004),(43.7,-0.008),(44.1,-0.005),(44.5,0.002),(44.8,0.006),(45.2,0.013),(45.6,0.004),(45.9,0.0),(46.3,-0.001),(46.7,-0.006),(47.0,0.002),(47.4,0.004),(47.7,-0.002),(48.1,0.006),(48.5,0.015),(48.8,0.006),(49.2,0.002),(49.6,0.008),(50.0,0.0),(50.4,0.012),(50.7,0.013)]

# ---------------- lowpass-filtered traces (t [ms], value) ----------------
red_1 = [(0,0.0),(0.6,0.0),(1.25,0.005),(1.7,0.12),(2.0,0.24),(2.37,0.293),(2.7,0.23),(3.0,0.09),(3.3,-0.06),(3.7,-0.141),(4.0,-0.1),(4.35,-0.03),(4.7,-0.01),(5.1,-0.04),(5.7,-0.068),(6.2,-0.04),(6.8,0.02),(7.3,0.06),(7.86,0.082),(8.3,0.06),(8.8,0.01),(9.5,-0.034),(10.2,-0.01),(10.9,0.007),(11.6,-0.005),(12.3,-0.012),(13.1,-0.022),(13.7,0.0),(14.4,0.025),(15.1,0.034),(15.9,0.03),(16.7,0.024),(17.5,0.005),(18.4,-0.02),(19.3,-0.024),(20.0,-0.01),(20.7,0.018),(21.4,0.029),(22.1,0.01),(22.8,-0.015),(23.4,-0.024),(24.2,-0.008),(25.2,0.007),(26.0,0.014),(26.9,0.022),(27.7,0.005),(28.7,-0.012),(29.8,-0.014),(30.5,0.002),(31.2,0.012),(32.0,0.005),(32.8,-0.008),(33.6,-0.017),(34.3,-0.005),(35.0,0.006),(36.2,0.004),(37.7,0.005),(39.3,0.0),(40.8,-0.002),(42.1,0.01),(43.5,-0.012),(44.6,0.0),(45.7,0.005),(46.7,-0.01),(47.7,0.005),(48.8,-0.005),(49.8,0.004),(50.8,0.01)]
red_2 = [(0,0.002),(1.1,0.002),(1.4,0.03),(1.7,0.091),(2.1,0.14),(2.45,0.156),(2.75,0.12),(3.0,0.067),(3.35,0.0),(3.7,-0.045),(4.1,-0.035),(4.5,-0.024),(5.0,-0.038),(5.55,-0.048),(6.0,-0.025),(6.5,0.014),(7.1,0.048),(7.8,0.062),(8.2,0.045),(8.65,0.019),(9.1,-0.005),(9.6,-0.022),(10.6,-0.014),(11.4,-0.008),(12.15,-0.002),(13.3,0.0),(14.0,0.01),(14.6,0.019),(15.3,0.012),(16.0,0.01),(16.8,0.002),(17.6,-0.005),(18.6,-0.01),(19.5,-0.012),(20.2,0.002),(20.9,0.014),(21.5,0.01),(22.2,0.005),(23.1,-0.004),(24.0,-0.01),(25.0,0.002),(25.9,0.012),(26.6,0.006),(27.3,0.0),(28.0,-0.004),(28.8,-0.007),(29.6,0.004),(30.4,0.014),(31.5,0.0),(32.7,-0.012),(33.5,0.002),(34.3,0.014),(35.4,0.005),(36.6,-0.002),(38.0,0.0),(39.7,-0.01),(40.9,0.002),(42.0,0.012),(42.8,0.005),(43.6,-0.002),(44.8,-0.007),(46.3,-0.007),(47.0,0.004),(47.7,0.014),(48.4,0.0),(49.4,0.01),(50.2,0.002),(51.0,-0.007)]
red_3 = [(0,0.0),(1.1,0.002),(1.35,0.03),(1.6,0.077),(2.0,0.14),(2.35,0.164),(2.65,0.13),(2.9,0.077),(3.3,-0.014),(3.7,-0.055),(4.1,-0.04),(4.5,-0.03),(5.0,-0.045),(5.4,-0.05),(6.0,-0.02),(6.5,0.014),(7.0,0.05),(7.6,0.07),(8.0,0.05),(8.5,0.018),(9.0,-0.01),(9.4,-0.023),(10.1,-0.02),(10.8,-0.014),(11.9,0.002),(13.4,0.002),(15.2,0.011),(16.6,0.014),(17.4,0.0),(18.1,-0.014),(19.5,-0.009),(20.5,0.005),(21.4,0.016),(22.8,0.0),(24.2,-0.014),(25.7,-0.002),(27.3,0.016),(28.5,0.002),(29.6,-0.009),(30.9,0.005),(32.0,-0.005),(33.2,-0.002),(35.2,0.009),(36.8,-0.005),(38.7,-0.005),(40.1,-0.002),(41.5,0.011),(43.0,0.009),(44.1,-0.005),(45.5,-0.009),(47.3,0.007),(48.8,0.0),(50.9,0.005)]
red_4 = [(0,0.0),(1.1,0.002),(1.35,0.03),(1.6,0.082),(2.0,0.145),(2.3,0.168),(2.6,0.135),(2.9,0.073),(3.3,-0.023),(3.7,-0.057),(4.1,-0.042),(4.5,-0.032),(5.0,-0.045),(5.4,-0.048),(6.0,-0.01),(6.5,0.027),(7.3,0.075),(7.8,0.05),(8.3,0.009),(8.8,-0.02),(9.2,-0.03),(10.3,-0.009),(11.4,0.005),(12.6,-0.009),(13.5,0.005),(14.5,0.018),(15.5,0.018),(16.4,0.016),(17.3,-0.005),(18.2,-0.02),(19.2,-0.01),(20.2,0.0),(21.0,0.012),(21.9,0.02),(22.7,0.005),(23.5,-0.009),(24.9,-0.011),(26.4,0.009),(27.8,0.02),(28.7,0.002),(29.6,-0.014),(31.1,-0.014),(32.0,0.005),(32.7,0.02),(33.8,0.0),(34.9,-0.016),(36.1,-0.007),(37.8,0.016),(39.0,-0.005),(40.5,-0.002),(42.3,0.0),(43.9,0.009),(45.2,-0.005),(46.6,-0.002),(48.0,0.014),(49.1,-0.002),(50.9,-0.011)]
red_5 = [(0,0.001),(1.3,0.005),(1.55,0.035),(1.8,0.077),(2.1,0.13),(2.4,0.152),(2.7,0.12),(3.0,0.059),(3.4,-0.023),(3.8,-0.052),(4.2,-0.04),(4.5,-0.027),(5.0,-0.038),(5.6,-0.045),(6.0,-0.02),(6.5,0.018),(7.0,0.048),(7.4,0.061),(7.9,0.04),(8.4,0.009),(8.9,-0.018),(9.4,-0.03),(10.3,-0.009),(11.4,0.007),(12.0,0.0),(12.7,-0.014),(13.3,-0.002),(13.9,0.014),(14.5,0.03),(15.1,0.036),(15.8,0.018),(16.5,-0.009),(17.2,-0.02),(17.9,-0.023),(19.2,0.0),(20.3,0.018),(21.5,0.009),(22.8,-0.014),(24.1,-0.002),(25.5,-0.002),(27.0,0.025),(28.4,0.0),(29.7,-0.018),(31.0,-0.002),(32.6,0.018),(33.9,-0.011),(35.8,-0.009),(37.1,0.014),(38.2,0.0),(39.6,0.0),(40.9,0.014),(42.2,-0.007),(44.0,-0.007),(45.8,0.007),(47.8,-0.009),(49.4,0.009),(51.0,0.007)]
red_6 = [(0,0.0),(1.0,0.001),(1.3,0.03),(1.55,0.077),(1.95,0.14),(2.3,0.159),(2.55,0.13),(2.8,0.073),(3.25,-0.023),(3.7,-0.061),(4.1,-0.045),(4.55,-0.03),(5.0,-0.042),(5.4,-0.048),(6.0,-0.025),(6.8,0.018),(7.4,0.05),(7.9,0.059),(8.4,0.04),(9.0,0.0),(9.75,-0.023),(10.9,-0.016),(12.2,0.005),(13.5,0.027),(14.5,0.041),(15.1,0.025),(15.6,0.005),(16.3,-0.012),(17.1,-0.02),(17.8,-0.01),(18.5,0.005),(19.8,0.016),(20.5,0.005),(21.2,-0.011),(22.7,-0.011),(23.6,0.01),(24.5,0.025),(25.3,0.012),(26.1,-0.005),(27.7,-0.014),(28.8,0.0),(29.9,0.014),(30.7,0.002),(31.5,-0.009),(33.0,-0.009),(34.2,0.01),(35.2,0.023),(36.4,0.005),(37.7,-0.018),(39.3,-0.002),(40.8,0.018),(42.0,-0.005),(43.6,-0.005),(45.2,0.009),(47.3,0.007),(48.7,-0.007),(50.9,-0.005)]
red_7 = [(0,0.001),(1.1,0.002),(1.35,0.035),(1.6,0.077),(2.0,0.145),(2.35,0.166),(2.65,0.13),(2.9,0.077),(3.3,-0.018),(3.8,-0.057),(4.2,-0.045),(4.6,-0.034),(5.0,-0.042),(5.4,-0.048),(5.9,-0.015),(6.5,0.032),(7.3,0.077),(7.7,0.06),(8.1,0.018),(8.6,-0.008),(9.0,-0.02),(10.1,-0.009),(11.2,-0.016),(12.5,0.005),(13.9,0.025),(15.2,0.005),(17.0,-0.009),(18.2,-0.002),(20.2,-0.009),(21.0,0.008),(21.7,0.02),(23.1,0.007),(24.6,-0.014),(26.4,0.005),(28.2,0.007),(29.3,-0.002),(30.5,0.009),(31.8,-0.002),(32.7,-0.009),(33.6,0.0),(34.3,-0.011),(35.5,0.005),(36.5,0.018),(37.6,0.005),(39.0,-0.023),(40.1,0.0),(41.4,0.016),(43.4,0.007),(44.1,-0.002),(45.5,-0.016),(47.1,0.009),(48.4,0.032),(49.3,0.018),(50.0,0.005),(50.9,-0.009)]
red_8 = [(0,0.001),(1.1,0.004),(1.35,0.035),(1.6,0.077),(2.0,0.14),(2.3,0.159),(2.6,0.125),(2.85,0.077),(3.3,-0.018),(3.75,-0.055),(4.2,-0.043),(4.6,-0.034),(5.0,-0.044),(5.4,-0.048),(6.0,-0.015),(6.6,0.032),(7.5,0.082),(8.0,0.055),(8.4,0.014),(8.9,-0.015),(9.5,-0.03),(10.7,-0.014),(12.2,0.009),(13.4,0.009),(15.2,0.0),(16.9,0.009),(18.1,0.007),(19.6,-0.016),(21.0,0.005),(22.1,0.014),(23.5,0.005),(25.3,-0.007),(27.5,-0.005),(29.1,0.009),(30.4,0.016),(31.5,0.005),(32.7,-0.014),(34.0,-0.014),(35.5,0.009),(36.7,0.018),(38.0,-0.005),(39.2,-0.016),(40.7,0.0),(41.9,0.016),(43.6,-0.002),(44.8,-0.009),(46.3,0.005),(47.7,0.005),(49.2,0.0),(50.2,0.002),(51.0,-0.002)]
red_9 = [(0,0.001),(1.0,0.005),(1.3,0.03),(1.6,0.07),(2.0,0.14),(2.3,0.167),(2.65,0.12),(3.0,0.046),(3.3,-0.015),(3.6,-0.049),(4.0,-0.042),(4.5,-0.034),(5.0,-0.042),(5.5,-0.049),(6.2,-0.02),(6.8,0.009),(7.4,0.045),(7.95,0.061),(8.4,0.035),(8.8,0.009),(9.3,-0.012),(9.7,-0.021),(10.5,-0.018),(11.5,-0.012),(12.3,-0.005),(13.1,0.009),(14.0,0.022),(14.9,0.031),(15.6,0.018),(16.4,0.003),(17.3,-0.012),(18.2,-0.02),(18.9,-0.01),(19.6,0.0),(20.7,0.02),(21.4,0.008),(22.0,0.006),(22.7,-0.002),(23.4,-0.006),(25.2,-0.002),(26.9,0.012),(27.8,0.002),(28.7,-0.009),(30.1,-0.003),(31.4,0.009),(32.3,0.0),(33.2,-0.006),(34.5,0.0),(36.3,0.0),(37.9,0.018),(38.8,0.0),(39.7,-0.012),(40.7,-0.005),(41.7,0.009),(43.0,0.009),(44.4,-0.009),(46.2,-0.003),(47.7,0.012),(49.3,0.003),(50.8,-0.002)]
red_10 = [(0,0.001),(0.66,0.0),(1.3,-0.006),(1.55,0.03),(1.8,0.119),(2.15,0.23),(2.49,0.278),(2.75,0.23),(3.0,0.119),(3.4,-0.064),(3.7,-0.153),(3.95,-0.12),(4.2,-0.076),(4.5,-0.04),(4.8,-0.024),(5.05,-0.035),(5.3,-0.046),(5.6,-0.02),(5.9,0.009),(6.3,0.055),(6.8,0.076),(7.1,0.06),(7.5,0.021),(8.0,-0.009),(9.0,-0.008),(9.5,-0.006),(10.2,-0.014),(11.0,0.0),(11.7,0.021),(12.6,0.038),(13.4,0.043),(14.0,0.025),(14.6,-0.003),(15.2,-0.028),(15.7,-0.037),(16.3,-0.02),(17.0,0.009),(17.6,0.025),(18.2,0.032),(18.8,0.018),(19.5,-0.003),(20.4,-0.015),(21.3,-0.021),(22.0,-0.005),(22.6,0.015),(23.2,0.03),(23.9,0.034),(24.5,0.02),(25.1,0.003),(25.7,-0.015),(26.2,-0.023),(27.0,-0.018),(27.7,-0.009),(28.5,0.015),(29.2,0.031),(29.8,0.015),(30.4,-0.009),(31.5,-0.021),(32.3,-0.01),(32.9,0.006),(33.9,0.018),(34.8,0.027),(35.3,0.012),(35.8,-0.003),(37.0,-0.009),(38.0,0.0),(38.7,0.007),(39.7,-0.003),(41.6,0.0),(42.8,-0.006),(43.8,0.008),(44.8,0.018),(45.7,0.005),(46.7,-0.006),(48.3,0.0),(49.8,0.006),(51.2,0.007)]
red_11 = [(0,0.004),(1.1,0.001),(1.35,0.04),(1.6,0.122),(2.0,0.24),(2.35,0.276),(2.65,0.23),(2.9,0.122),(3.3,-0.015),(3.7,-0.153),(3.95,-0.13),(4.2,-0.083),(4.45,-0.04),(4.7,-0.021),(5.1,-0.042),(5.55,-0.055),(5.9,-0.01),(6.2,0.031),(6.55,0.06),(6.9,0.07),(7.2,0.05),(7.4,0.031),(8.0,-0.001),(8.8,-0.005),(9.5,-0.015),(10.2,-0.024),(10.8,-0.005),(11.3,0.008),(12.4,0.031),(13.1,0.032),(13.9,0.024),(14.5,0.005),(15.0,-0.005),(15.8,-0.035),(16.3,-0.02),(16.8,-0.005),(17.4,0.018),(17.9,0.026),(18.5,0.012),(19.0,0.004),(20.1,-0.005),(21.2,-0.021),(21.8,-0.01),(22.3,0.004),(23.4,0.01),(24.5,0.017),(25.5,0.0),(27.0,-0.008),(28.5,-0.005),(29.6,-0.01),(30.3,0.005),(31.0,0.02),(32.1,0.0),(33.6,-0.005),(35.0,0.008),(36.5,0.013),(38.0,0.004),(40.1,-0.01),(42.3,0.008),(43.8,-0.005),(45.6,0.004),(47.4,0.008),(48.9,0.015),(50.0,-0.001),(51.1,-0.008)]
red_12 = [(0,0.004),(1.0,0.004),(1.25,0.03),(1.5,0.099),(1.9,0.22),(2.4,0.276),(2.7,0.22),(3.0,0.122),(3.35,-0.014),(3.7,-0.153),(4.0,-0.11),(4.3,-0.06),(4.55,-0.03),(4.8,-0.024),(5.1,-0.045),(5.4,-0.058),(5.9,-0.014),(6.35,0.035),(6.9,0.058),(7.3,0.04),(7.6,0.031),(8.3,-0.001),(9.1,-0.024),(10.1,-0.035),(10.7,-0.015),(11.2,0.008),(11.8,0.035),(12.3,0.045),(12.9,0.035),(13.4,0.022),(14.0,-0.005),(14.5,-0.019),(15.4,-0.037),(16.0,-0.02),(16.4,-0.005),(17.1,0.015),(17.8,0.026),(18.4,0.015),(18.9,0.004),(20.0,-0.005),(21.1,-0.015),(21.6,-0.01),(22.2,0.004),(22.8,0.025),(23.3,0.04),(23.7,0.025),(24.0,0.017),(24.7,-0.015),(25.5,-0.015),(26.6,0.008),(28.0,0.004),(29.5,-0.005),(30.6,0.0),(31.7,-0.015),(32.4,0.005),(33.1,0.017),(34.2,0.031),(34.8,0.015),(35.3,0.008),(36.4,-0.01),(37.9,0.013),(39.0,0.0),(40.1,-0.01),(41.5,0.004),(42.6,0.015),(43.7,0.004),(45.2,-0.008),(46.6,-0.001),(48.1,-0.001),(49.6,0.004),(51.0,0.01)]

GREYS = [grey_1, grey_2, grey_3, grey_4, grey_5, grey_6, grey_7, grey_8, grey_9, grey_10, grey_11, grey_12]
REDS = [red_1, red_2, red_3, red_4, red_5, red_6, red_7, red_8, red_9, red_10, red_11, red_12]

# ---------------- layout constants ----------------
PW, PH = 922, 537
SPACER_H = 105
XDOM = [-2.55, 53.55]
YDOM = [-0.195, 0.5]

one = pd.DataFrame({"k": [0]})


def axis_common():
    return dict(domain=False, ticks=True, tickSize=9, tickWidth=3, tickColor="black",
                grid=True, gridColor=GRID_C, gridWidth=2.5,
                labelFont=FONT, labelFontSize=40, labelColor="black", labelPadding=17,
                labelFlush=False, labelOverlap=False)


def x_axis(show, title_text, values, fmt):
    kw = axis_common()
    kw.update(values=values, format=fmt, labels=show)
    if title_text:
        kw.update(title=title_text, titleFont=FONT, titleFontSize=58, titleFontWeight="normal",
                  titleColor="black", titleY=126, titleBaseline="alphabetic")
    else:
        kw.update(title=None)
    return alt.Axis(**kw)


def y_axis(show, title_text, values, fmt, title_x):
    kw = axis_common()
    kw.update(values=values, format=fmt, labels=show, labelPadding=16)
    if title_text:
        kw.update(title=title_text, titleFont=FONT, titleFontSize=58, titleFontWeight="normal",
                  titleColor="black", titleX=title_x, titleY=PH / 2, titleAngle=270,
                  titleBaseline="alphabetic")
    else:
        kw.update(title=None)
    return alt.Axis(**kw)


def panel(i):
    row, col = divmod(i, 4)
    xenc = alt.X("t:Q", scale=alt.Scale(domain=XDOM, nice=False, zero=False),
                 axis=x_axis(row == 2, "Time after stimulus, Δt [ms]" if row == 2 else None, x_ticks_ms, "d"))
    yenc = alt.Y("v:Q", scale=alt.Scale(domain=YDOM, nice=False, zero=False),
                 axis=y_axis(col == 0, "Detrended ρ" if col == 0 else None, y_ticks_rho, ".1f", -118))
    g = alt.Chart(pd.DataFrame(GREYS[i], columns=["t", "v"])).mark_line(
        color=GREY_C, strokeWidth=3.5, clip=True).encode(x=xenc, y=yenc)
    r = alt.Chart(pd.DataFrame(REDS[i], columns=["t", "v"])).mark_line(
        color=RED_C, strokeWidth=7, clip=True, interpolate="monotone").encode(x=xenc, y=yenc)
    base = alt.Chart(one)
    box = base.mark_rect(fill="white", fillOpacity=0.8, stroke="#cccccc", strokeWidth=3,
                         cornerRadius=10).encode(x=alt.value(539), x2=alt.value(896),
                                                 y=alt.value(25), y2=alt.value(201))
    l1 = base.mark_rule(color=GREY_C, strokeWidth=3.5).encode(
        x=alt.value(557), x2=alt.value(660), y=alt.value(77))
    l2 = base.mark_rule(color=RED_C, strokeWidth=7).encode(
        x=alt.value(556), x2=alt.value(661), y=alt.value(152))
    t1 = base.mark_text(text="ρ − ⟨ρ⟩", font="DejaVu Serif", fontStyle="italic", fontSize=48,
                        align="left", baseline="alphabetic", color="black").encode(
        x=alt.value(698), y=alt.value(94))
    t2 = base.mark_text(text="filtered", font=FONT, fontSize=48, align="left",
                        baseline="alphabetic", color="black").encode(
        x=alt.value(700), y=alt.value(171))
    w1 = base.mark_text(text="W", font=SERIF, fontStyle="italic", fontSize=67, align="left",
                        baseline="alphabetic", color="black").encode(x=alt.value(94), y=alt.value(107))
    w2 = base.mark_text(text="=", font=SERIF, fontSize=67, align="left",
                        baseline="alphabetic", color="black").encode(x=alt.value(165), y=alt.value(107))
    w3 = base.mark_text(text=w_labels[i], font=SERIF, fontSize=67, align="left",
                        baseline="alphabetic", color="black").encode(x=alt.value(230), y=alt.value(107))
    return alt.layer(g, r, box, l1, l2, t1, t2, w1, w2, w3).properties(width=PW, height=PH)


def top_chart():
    xenc = alt.X("f:Q", scale=alt.Scale(domain=[0, 5], nice=False, zero=False),
                 axis=x_axis(True, "Frequency [KHz]", x_ticks_khz, ".1f"))
    yenc = alt.Y("p:Q", scale=alt.Scale(domain=[-0.05, 1.05], nice=False, zero=False),
                 axis=y_axis(True, "Pass", y_ticks_pass, ".1f", -109))
    df = pd.DataFrame({"f": freq_khz, "p": pass_val})
    curve = alt.Chart(df).mark_line(color="#0000ff", strokeWidth=5, interpolate="monotone").encode(x=xenc, y=yenc)
    vline = alt.Chart(pd.DataFrame({"f": cutoff_khz})).mark_rule(color="black", strokeWidth=5).encode(x=xenc)
    dot = alt.Chart(pd.DataFrame({"f": cutoff_khz, "p": cutoff_pass})).mark_circle(
        color="black", size=615, opacity=1).encode(x=xenc, y=yenc)
    ttl = alt.Chart(one).mark_text(text="Lowpass Filter Frequency Response", font=FONT, fontSize=50,
                                   align="center", baseline="alphabetic", color="black").encode(
        x=alt.value(PW / 2), y=alt.value(-25))
    return alt.layer(curve, vline, dot, ttl).properties(width=PW, height=PH)


def blank(h):
    return alt.Chart(one).mark_point(opacity=0).encode(x=alt.value(0), y=alt.value(0)).properties(
        width=PW, height=h, view=alt.ViewBackground(stroke="transparent", strokeWidth=0))


cells = [top_chart(), blank(PH), blank(PH), blank(PH)]
cells += [blank(SPACER_H) for _ in range(4)]
cells += [panel(i) for i in range(12)]

chart = alt.concat(*cells, columns=4, spacing={"row": 32, "column": 28},
                   bounds="flush", align="each").properties(
    background="white",
    padding={"left": 24, "top": 17, "right": 10, "bottom": 10},
).configure_view(stroke="black", strokeWidth=3)

chart.save("out.html", embed_options={"renderer": "svg", "actions": False})
